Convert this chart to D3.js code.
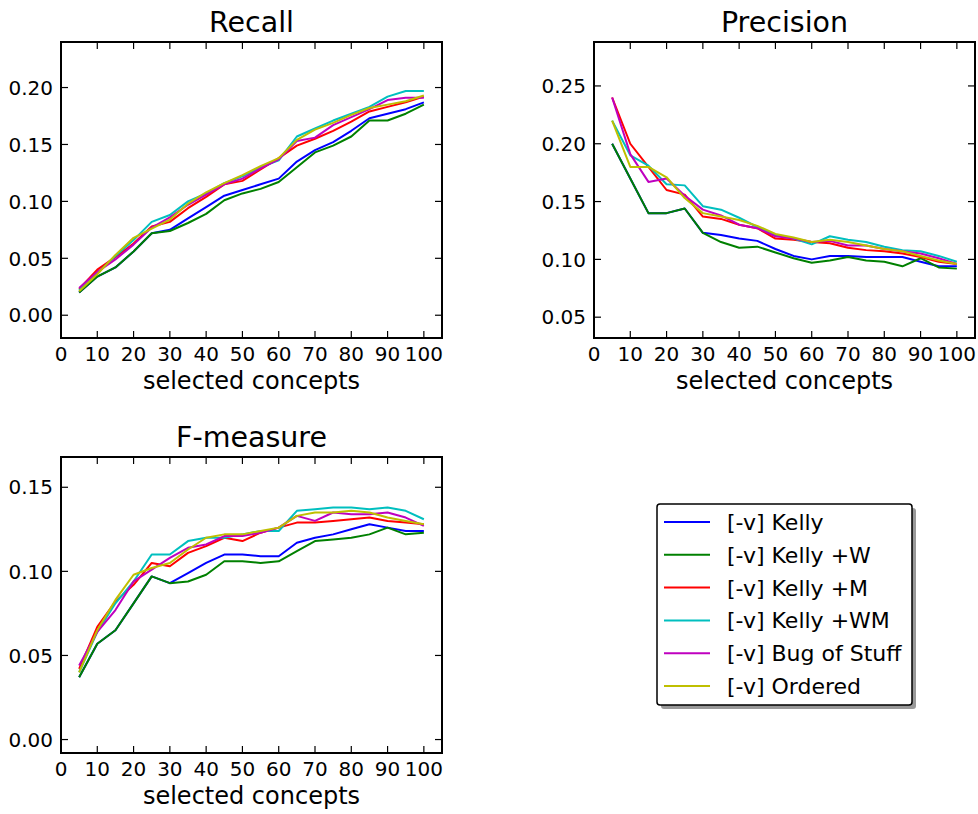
<!DOCTYPE html>
<html>
<head>
<meta charset="utf-8">
<script src="https://cdn.jsdelivr.net/npm/d3@7"></script>
<style>
  body { margin: 0; background: #fff; }
  svg { display: block; font-family: "DejaVu Sans", sans-serif; }
  .frame { fill: none; stroke: #000; stroke-width: 2; }
  .tick-mark { stroke: #000; stroke-width: 1.2; }
  .series { fill: none; stroke-width: 2; stroke-linejoin: round; }
</style>
</head>
<body>
<div id="chart"></div>
<script>
const WIDTH = 978;
const HEIGHT = 814;

const xValues = [5, 10, 15, 20, 25, 30, 35, 40, 45, 50, 55, 60, 65, 70, 75, 80, 85, 90, 95, 100];
const xTicks = [0, 10, 20, 30, 40, 50, 60, 70, 80, 90, 100];

const seriesNames = ["[-v] Kelly", "[-v] Kelly +W", "[-v] Kelly +M", "[-v] Kelly +WM", "[-v] Bug of Stuff", "[-v] Ordered"];
const seriesColors = ["#0000ff", "#008000", "#ff0000", "#00bfbf", "#bf00bf", "#bfbf00"];

// one row per series, same order as seriesNames
const recallValues = [
    [0.020, 0.034, 0.042, 0.056, 0.072, 0.075, 0.085, 0.095, 0.105, 0.110, 0.115, 0.120, 0.135, 0.145, 0.152, 0.162, 0.173, 0.177, 0.181, 0.187],
    [0.020, 0.034, 0.042, 0.056, 0.072, 0.074, 0.081, 0.089, 0.101, 0.107, 0.111, 0.117, 0.130, 0.143, 0.149, 0.157, 0.171, 0.171, 0.177, 0.185],
    [0.023, 0.040, 0.051, 0.063, 0.078, 0.082, 0.094, 0.104, 0.115, 0.118, 0.128, 0.138, 0.149, 0.155, 0.162, 0.170, 0.179, 0.183, 0.187, 0.192],
    [0.022, 0.037, 0.052, 0.066, 0.082, 0.088, 0.100, 0.107, 0.116, 0.122, 0.130, 0.136, 0.157, 0.164, 0.171, 0.177, 0.183, 0.192, 0.197, 0.197],
    [0.024, 0.038, 0.049, 0.062, 0.077, 0.086, 0.097, 0.106, 0.115, 0.120, 0.129, 0.137, 0.153, 0.156, 0.167, 0.174, 0.181, 0.189, 0.191, 0.191],
    [0.021, 0.036, 0.053, 0.068, 0.076, 0.084, 0.098, 0.108, 0.116, 0.123, 0.131, 0.138, 0.154, 0.163, 0.169, 0.176, 0.182, 0.185, 0.188, 0.193]
];

const precisionValues = [
    [0.200, 0.170, 0.140, 0.140, 0.144, 0.123, 0.121, 0.118, 0.116, 0.109, 0.103, 0.100, 0.103, 0.103, 0.102, 0.102, 0.102, 0.098, 0.094, 0.094],
    [0.200, 0.170, 0.140, 0.140, 0.144, 0.123, 0.115, 0.110, 0.111, 0.106, 0.101, 0.097, 0.099, 0.102, 0.099, 0.098, 0.094, 0.101, 0.093, 0.092],
    [0.240, 0.200, 0.180, 0.160, 0.156, 0.137, 0.135, 0.130, 0.127, 0.118, 0.117, 0.115, 0.114, 0.110, 0.108, 0.107, 0.105, 0.102, 0.098, 0.096],
    [0.220, 0.190, 0.181, 0.165, 0.164, 0.146, 0.143, 0.136, 0.128, 0.121, 0.118, 0.113, 0.120, 0.117, 0.115, 0.111, 0.108, 0.107, 0.103, 0.098],
    [0.240, 0.191, 0.167, 0.170, 0.155, 0.143, 0.138, 0.130, 0.127, 0.120, 0.118, 0.115, 0.116, 0.112, 0.112, 0.109, 0.107, 0.105, 0.101, 0.096],
    [0.220, 0.180, 0.180, 0.171, 0.153, 0.140, 0.137, 0.134, 0.129, 0.122, 0.119, 0.115, 0.117, 0.115, 0.112, 0.109, 0.107, 0.103, 0.099, 0.096]
];

const fmeasureValues = [
    [0.037, 0.057, 0.065, 0.081, 0.097, 0.093, 0.099, 0.105, 0.110, 0.110, 0.109, 0.109, 0.117, 0.120, 0.122, 0.125, 0.128, 0.126, 0.124, 0.124],
    [0.037, 0.057, 0.065, 0.081, 0.097, 0.093, 0.094, 0.098, 0.106, 0.106, 0.105, 0.106, 0.112, 0.118, 0.119, 0.120, 0.122, 0.126, 0.122, 0.123],
    [0.042, 0.067, 0.082, 0.092, 0.105, 0.103, 0.111, 0.115, 0.120, 0.118, 0.123, 0.126, 0.129, 0.129, 0.130, 0.131, 0.132, 0.130, 0.129, 0.128],
    [0.040, 0.064, 0.081, 0.094, 0.110, 0.110, 0.118, 0.120, 0.120, 0.122, 0.124, 0.124, 0.136, 0.137, 0.138, 0.138, 0.137, 0.138, 0.136, 0.131],
    [0.044, 0.064, 0.077, 0.094, 0.101, 0.108, 0.114, 0.116, 0.121, 0.121, 0.123, 0.126, 0.133, 0.130, 0.135, 0.134, 0.134, 0.135, 0.132, 0.127],
    [0.040, 0.065, 0.083, 0.098, 0.102, 0.105, 0.113, 0.120, 0.122, 0.122, 0.124, 0.126, 0.133, 0.135, 0.135, 0.136, 0.135, 0.132, 0.130, 0.128]
];

const recallTicks = [0, 0.05, 0.10, 0.15, 0.20];
const precisionTicks = [0.05, 0.10, 0.15, 0.20, 0.25];
const fmeasureTicks = [0, 0.05, 0.10, 0.15];

const TICK_LEN = 7;
const fmt = d3.format(".2f");

const svg = d3.select("#chart")
    .append("svg")
    .attr("width", WIDTH)
    .attr("height", HEIGHT);

const drawPanel = (opts) => {
    const {left, top, width, height, yDomain, yTicks, title, rows} = opts;

    const x = d3.scaleLinear().domain([0, 105]).range([0, width]);
    const y = d3.scaleLinear().domain(yDomain).range([height, 0]);

    const g = svg.append("g")
        .attr("transform", "translate(" + left + "," + top + ")");

    const line = d3.line()
        .x((d, i) => x(xValues[i]))
        .y(d => y(d));

    g.append("g").attr("class", "lines")
        .selectAll("path")
        .data(rows)
        .join("path")
        .attr("class", "series")
        .attr("stroke", (d, i) => seriesColors[i])
        .attr("d", d => line(d));

    // inward ticks on all four sides, matplotlib classic look
    const ticks = g.append("g").attr("class", "ticks");
    xTicks.forEach(t => {
        ticks.append("line").attr("class", "tick-mark")
            .attr("x1", x(t)).attr("x2", x(t)).attr("y1", height).attr("y2", height - TICK_LEN);
        ticks.append("line").attr("class", "tick-mark")
            .attr("x1", x(t)).attr("x2", x(t)).attr("y1", 0).attr("y2", TICK_LEN);
        ticks.append("text")
            .attr("x", x(t))
            .attr("y", height + 23)
            .attr("text-anchor", "middle")
            .attr("font-size", 20)
            .text(t);
    });
    yTicks.forEach(t => {
        ticks.append("line").attr("class", "tick-mark")
            .attr("x1", 0).attr("x2", TICK_LEN).attr("y1", y(t)).attr("y2", y(t));
        ticks.append("line").attr("class", "tick-mark")
            .attr("x1", width).attr("x2", width - TICK_LEN).attr("y1", y(t)).attr("y2", y(t));
        ticks.append("text")
            .attr("x", -8)
            .attr("y", y(t))
            .attr("dy", "0.36em")
            .attr("text-anchor", "end")
            .attr("font-size", 20)
            .text(fmt(t));
    });

    g.append("rect")
        .attr("class", "frame")
        .attr("width", width)
        .attr("height", height);

    g.append("text")
        .attr("x", width / 2)
        .attr("y", -10)
        .attr("text-anchor", "middle")
        .attr("font-size", 28.5)
        .text(title);

    g.append("text")
        .attr("x", width / 2)
        .attr("y", height + 51)
        .attr("text-anchor", "middle")
        .attr("font-size", 24)
        .text("selected concepts");
};

drawPanel({left: 61, top: 42, width: 381, height: 296,
    yDomain: [-0.02, 0.24], yTicks: recallTicks, title: "Recall", rows: recallValues});
drawPanel({left: 594, top: 42, width: 381, height: 296,
    yDomain: [0.032, 0.288], yTicks: precisionTicks, title: "Precision", rows: precisionValues});
drawPanel({left: 61, top: 457, width: 381, height: 296,
    yDomain: [-0.008, 0.168], yTicks: fmeasureTicks, title: "F-measure", rows: fmeasureValues});

// legend
const legend = svg.append("g").attr("transform", "translate(657,504)");
const LEG_W = 255, LEG_H = 201, ROW_H = 32.8;

legend.append("rect")
    .attr("x", 4).attr("y", 4)
    .attr("width", LEG_W).attr("height", LEG_H)
    .attr("rx", 3)
    .attr("fill", "#999");
legend.append("rect")
    .attr("width", LEG_W).attr("height", LEG_H)
    .attr("rx", 3)
    .attr("fill", "#fff")
    .attr("stroke", "#000")
    .attr("stroke-width", 1.5);

const items = legend.selectAll("g.item")
    .data(seriesNames)
    .join("g")
    .attr("class", "item")
    .attr("transform", (d, i) => "translate(0," + (18 + i * ROW_H) + ")");

items.append("line")
    .attr("x1", 7).attr("x2", 53)
    .attr("stroke", (d, i) => seriesColors[i])
    .attr("stroke-width", 2);

items.append("text")
    .attr("x", 70)
    .attr("dy", "0.36em")
    .attr("font-size", 22)
    .text(d => d);
</script>
</body>
</html>
